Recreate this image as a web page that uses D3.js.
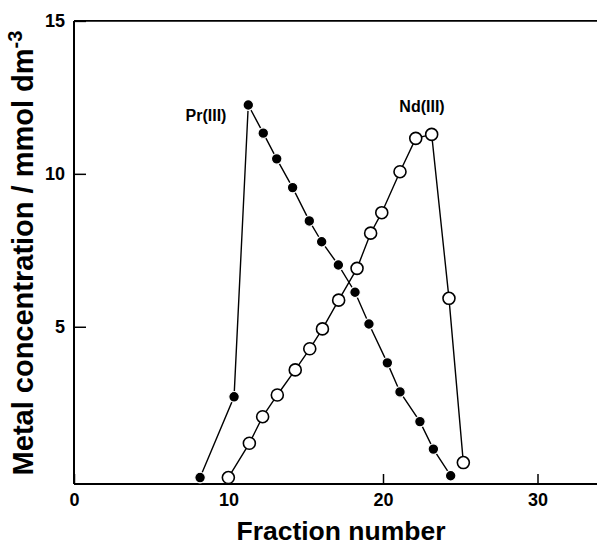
<!DOCTYPE html>
<html>
<head>
<meta charset="utf-8">
<script src="https://cdn.jsdelivr.net/npm/d3@7"></script>
<style>
  body { margin: 0; background: #fff; }
  svg { display: block; font-family: "Liberation Sans", Arial, sans-serif; font-weight: bold; }
  .axiss text { font-size: 18px; font-weight: bold; font-family: "Liberation Sans", Arial, sans-serif; }
</style>
</head>
<body>
<div id="chart"></div>
<script>
// values
var prFraction = [8.16, 10.36, 11.28, 12.25, 13.12, 14.15, 15.23, 16.03, 17.11, 18.19, 19.09, 20.28, 21.1, 22.39, 23.26, 24.38];
var prConc     = [0.07, 2.71, 12.25, 11.33, 10.49, 9.55, 8.46, 7.78, 7.02, 6.13, 5.09, 3.82, 2.87, 1.9, 1.0, 0.13];

var ndFraction = [9.99, 11.35, 12.21, 13.16, 14.32, 15.26, 16.08, 17.13, 18.32, 19.2, 19.92, 21.1, 22.12, 23.15, 24.27, 25.2];
var ndConc     = [0.07, 1.19, 2.06, 2.77, 3.59, 4.28, 4.93, 5.87, 6.91, 8.06, 8.73, 10.07, 11.16, 11.29, 5.93, 0.56];

var xTicks = [0, 10, 20, 30];
var yTicks = [5, 10, 15];

var width = 597, height = 546;

var svg = d3.select("#chart").append("svg")
    .attr("width", width)
    .attr("height", height);

var x = d3.scaleLinear().domain([0, 30]).range([74, 537.5]),
    y = d3.scaleLinear().domain([0, 15]).range([479.7, 20.9]);

var axisY = 484; // x axis sits a little under zero

// frame: left, bottom, top (cut at the right edge)
svg.append("line").attr("x1", x(0)).attr("x2", x(0)).attr("y1", y(15)).attr("y2", axisY)
    .attr("stroke", "#000").attr("stroke-width", 2);
svg.append("line").attr("x1", x(0)).attr("x2", width).attr("y1", axisY).attr("y2", axisY)
    .attr("stroke", "#000").attr("stroke-width", 2);
svg.append("line").attr("x1", x(0)).attr("x2", width).attr("y1", y(15)).attr("y2", y(15))
    .attr("stroke", "#000").attr("stroke-width", 1.6);

var gx = svg.append("g")
    .attr("class", "axiss")
    .attr("transform", "translate(0," + axisY + ")")
    .call(d3.axisBottom(x).tickValues(xTicks).tickSize(-10).tickPadding(9).tickFormat(d3.format("d")));
gx.select(".domain").remove();
gx.selectAll("line").attr("stroke-width", 1.5);

var gy = svg.append("g")
    .attr("class", "axiss")
    .attr("transform", "translate(" + x(0) + ",0)")
    .call(d3.axisLeft(y).tickValues(yTicks).tickSize(-12).tickPadding(9).tickFormat(d3.format("d")));
gy.select(".domain").remove();
gy.selectAll("line").attr("stroke-width", 1.5);

// series
var pr = prFraction.map(function(d, i) { return {f: d, c: prConc[i]}; });
var nd = ndFraction.map(function(d, i) { return {f: d, c: ndConc[i]}; });

var line = d3.line()
    .x(function(d) { return x(d.f); })
    .y(function(d) { return y(d.c); });

svg.append("path").datum(pr)
    .attr("d", line).attr("fill", "none").attr("stroke", "#000").attr("stroke-width", 1.4);
svg.append("path").datum(nd)
    .attr("d", line).attr("fill", "none").attr("stroke", "#000").attr("stroke-width", 1.4);

svg.selectAll(".nd").data(nd)
  .enter().append("circle")
    .attr("class", "nd")
    .attr("cx", function(d) { return x(d.f); })
    .attr("cy", function(d) { return y(d.c); })
    .attr("r", 6)
    .attr("fill", "#fff")
    .attr("stroke", "#000")
    .attr("stroke-width", 1.6);

svg.selectAll(".pr").data(pr)
  .enter().append("circle")
    .attr("class", "pr")
    .attr("cx", function(d) { return x(d.f); })
    .attr("cy", function(d) { return y(d.c); })
    .attr("r", 5.3)
    .attr("fill", "#000")
    .attr("stroke", "#fff")
    .attr("stroke-width", 1.2);

// series labels
svg.append("text").attr("x", 206).attr("y", 121)
    .attr("text-anchor", "middle").attr("font-size", 16).text("Pr(III)");
svg.append("text").attr("x", 422).attr("y", 112)
    .attr("text-anchor", "middle").attr("font-size", 16).text("Nd(III)");

// axis titles
svg.append("text").attr("x", 341).attr("y", 540)
    .attr("text-anchor", "middle").attr("font-size", 26.5).text("Fraction number");

var yt = svg.append("text")
    .attr("transform", "translate(33,253) rotate(-90)")
    .attr("text-anchor", "middle").attr("font-size", 29);
yt.append("tspan").text("Metal concentration / mmol dm");
yt.append("tspan").attr("dy", -11).attr("font-size", 20).text("-3");
</script>
</body>
</html>
